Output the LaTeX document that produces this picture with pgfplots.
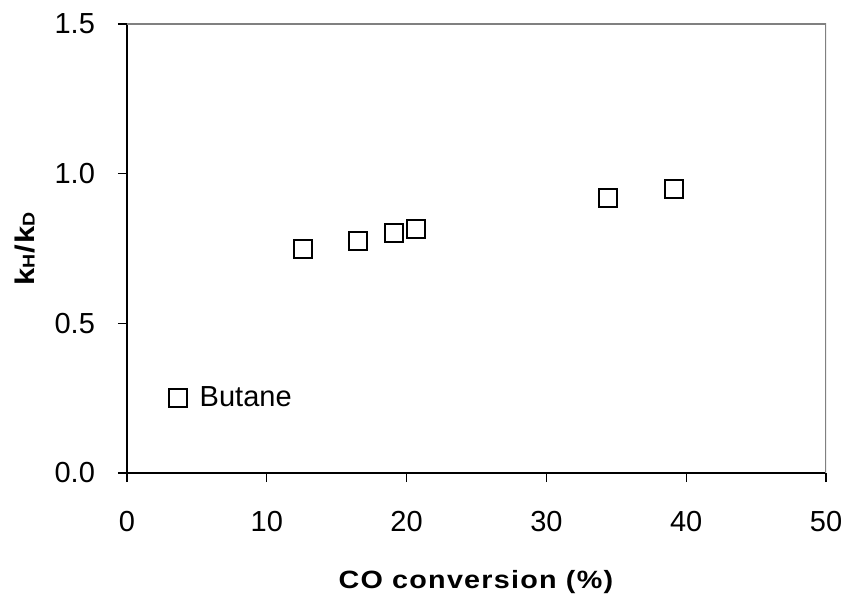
\documentclass[border=0pt]{standalone}
\usepackage{pgfplots}
\pgfplotsset{compat=1.18}
\usepackage{fontspec}
\setmainfont{Liberation Sans}
\newfontfamily\lblfont[FakeStretch=1.15, LetterSpace=5]{Liberation Sans}
\begin{document}
\begin{tikzpicture}
\begin{axis}[
  name=ax,
  scale only axis,
  width=349.5pt, height=224.5pt,
  xmin=0, xmax=50, ymin=0, ymax=1.5,
  xtick={0,10,20,30,40,50},
  ytick={0,0.5,1,1.5},
  /pgf/number format/assume math mode=true,
  axis x line*=bottom, axis y line*=left,
  axis line style={-, black, line width=0.6pt},
  tick align=outside,
  major tick length=4.5pt,
  tick style={black, line width=0.6pt},
  ticklabel style={font=\fontsize{14.5}{17}\selectfont},
  xticklabel style={yshift=-11pt},
  yticklabel style={xshift=-8pt, /pgf/number format/.cd, fixed, fixed zerofill, precision=1},
  xlabel={\textbf{CO conversion (\%)}},
  ylabel={\textbf{k{\fontsize{8.5}{10}\selectfont H}/k{\fontsize{8.5}{10}\selectfont D}}},
  xlabel style={font=\lblfont\fontsize{12.5}{15}\selectfont, at={(axis description cs:0.5,-0.2428)}, anchor=center},
  ylabel style={font=\lblfont\fontsize{13.5}{15}\selectfont, at={(axis description cs:-0.1459,0.5)}, anchor=center},
  legend style={draw=none, fill=none, inner sep=0pt, outer sep=0pt,
    at={(axis cs:3.0,0.25)}, anchor=west,
    nodes={inner sep=0pt}, font=\fontsize{14.5}{17}\selectfont},
  legend image code/.code={\draw[#1] plot coordinates {(4.5pt,0pt)}; \path (0pt,0pt) (15pt,0pt);},
]
\addplot[only marks, mark=square*, mark size=4.5pt, mark options={draw=black, fill=white, line width=1pt}]
  coordinates {(12.61,0.748) (16.50,0.775) (19.12,0.801) (20.65,0.814) (34.43,0.918) (39.13,0.949)};
\addlegendentry{Butane}
\draw[gray, line width=0.8pt] (rel axis cs:0,1) -- (rel axis cs:1,1) -- (rel axis cs:1,0);
\end{axis}
\pgfresetboundingbox
\path (ax.south west) ++(-63.5pt,-65pt) rectangle ++(424.5pt,301.5pt);
\end{tikzpicture}
\end{document}
